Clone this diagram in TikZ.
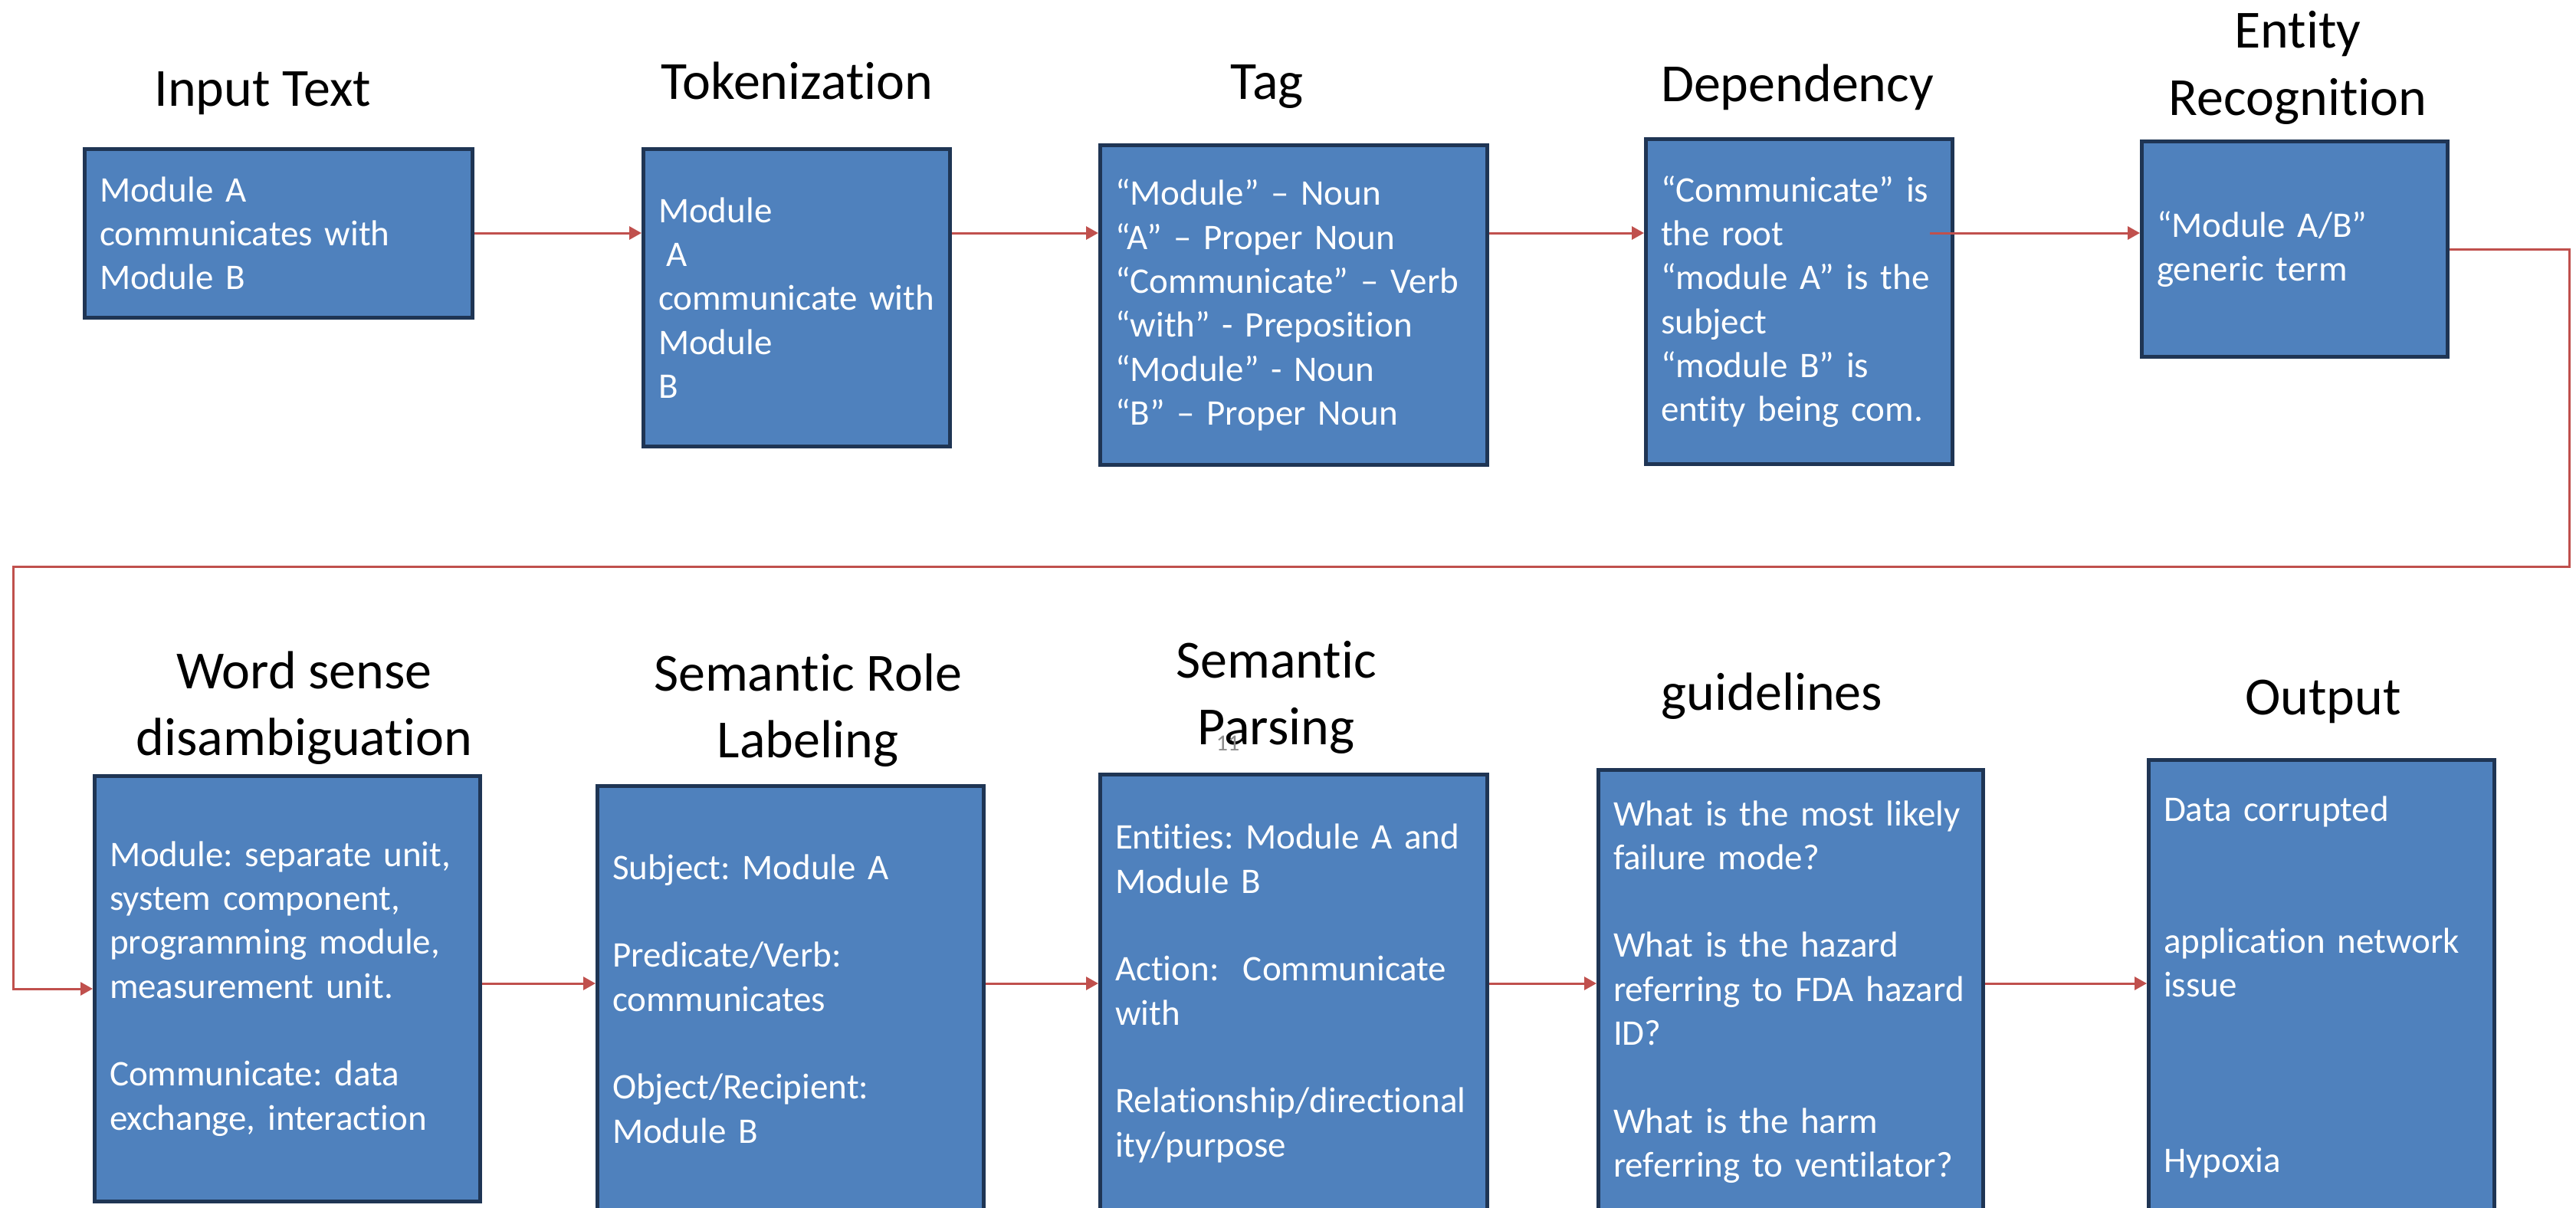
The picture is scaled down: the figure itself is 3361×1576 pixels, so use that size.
\documentclass[tikz,border=0pt]{standalone}
\usepackage{fontspec}
\setmainfont[Ligatures=NoCommon]{Carlito}
\usetikzlibrary{arrows.meta,calc}
\definecolor{boxfill}{RGB}{79,129,189}
\definecolor{boxline}{RGB}{31,53,84}
\definecolor{arrred}{RGB}{192,80,77}
\definecolor{pgnum}{RGB}{140,140,140}
\frenchspacing
\begin{document}
\begin{tikzpicture}[x=1pt,y=-1pt,
  box/.style={draw=boxline, fill=boxfill, line width=5pt, rectangle, inner xsep=19.5pt, inner ysep=0pt,
    align=left, text=white, font=\fontsize{47pt}{57.3pt}\selectfont},
  ttl/.style={anchor=base, text=black, font=\fontsize{70pt}{85pt}\selectfont, inner sep=0pt},
  arr/.style={draw=arrred, line width=3pt, -{Triangle[length=16pt,width=17pt]}}]
\useasboundingbox (0,0) rectangle (3361,1576);
\clip (0,0) rectangle (3361,1576);
\fill[white] (0,0) rectangle (3361,1576);

% titles row 1
\node[ttl] (t1) at (343,139) {Input Text};
\node[ttl] (t2) at (1040,129) {Tokenization};
\node[ttl] (t3) at (1653,129) {Tag};
\node[ttl] (t4) at (2345,132) {Dependency};
\node[ttl] (t5a) at (2998,63) {Entity};
\node[ttl] (t5b) at (2998,150) {Recognition};
% titles row 2
\node[ttl] (t6a) at (397,898) {Word sense};
\node[ttl] (t6b) at (397,985) {disambiguation};
\node[ttl] (t7a) at (1054,901) {Semantic Role};
\node[ttl] (t7b) at (1054,988) {Labeling};
\node[ttl] (t8a) at (1665,884) {Semantic};
\node[ttl] (t8b) at (1665,971) {Parsing};
\node[ttl] (t9) at (2312,926) {guidelines};
\node[ttl] (t10) at (3031,932) {Output};

% boxes row 1
\node[box, minimum width=506pt, minimum height=220pt, text width=467pt] (b1) at (363.5,304.5)
  {Module A\\communicates with\\Module B};
\node[box, minimum width=400pt, minimum height=388pt, text width=361pt] (b2) at (1039.5,388.5)
  {Module\\\hspace*{0.22em}A\\communicate with\\Module\\B};
\node[box, minimum width=505pt, minimum height=417pt, text width=466pt] (b3) at (1688,398)
  {“Module” – Noun\\“A” – Proper Noun\\“Communicate” – Verb\\“with” - Preposition\\“Module” - Noun\\“B” – Proper Noun};
\node[box, minimum width=400pt, minimum height=424pt, text width=361pt] (b4) at (2347.5,393.5)
  {“Communicate” is\\the root\\“module A” is the\\subject\\“module B” is\\entity being com.};
\node[box, minimum width=399pt, minimum height=281pt, text width=360pt] (b5) at (2994,325)
  {“Module A/B”\\generic term};

% boxes row 2
\node[box, minimum width=503pt, minimum height=555pt, text width=464pt] (b6) at (375,1290)
  {Module: separate unit,\\system component,\\programming module,\\measurement unit.\\[57.3pt]Communicate: data\\exchange, interaction};
\node[box, minimum width=504pt, minimum height=555pt, text width=465pt] (b7) at (1031.5,1303)
  {Subject: Module A\\[57.3pt]Predicate/Verb:\\communicates\\[57.3pt]Object/Recipient:\\Module B};
\node[box, minimum width=505pt, minimum height=571pt, text width=466pt] (b8) at (1688,1296)
  {Entities: Module A and\\Module B\\[57.3pt]Action:\ \ Communicate\\with\\[57.3pt]Relationship/directional\\ity/purpose};
\node[box, minimum width=502pt, minimum height=579pt, text width=463pt] (b9) at (2336.5,1294)
  {What is the most likely\\failure mode?\\[57.3pt]What is the hazard\\referring to FDA hazard\\ID?\\[57.3pt]What is the harm\\referring to ventilator?};
\node[box, minimum width=451pt, minimum height=593pt, text width=412pt] (b10) at (3029,1288)
  {Data corrupted\\[114.6pt]application network\\issue\\[171.9pt]Hypoxia};

% slide number
\node[text=pgnum, font=\fontsize{30pt}{36pt}\selectfont, inner sep=0pt] (pn) at (1602,970) {11};

% connectors row 1
\coordinate (r1) at (0,304);
\draw[arr] (r1 -| b1.east) -- (r1 -| b2.west);
\draw[arr] (r1 -| b2.east) -- (r1 -| b3.west);
\draw[arr] (r1 -| b3.east) -- (r1 -| b4.west);
\draw[arr] ($(r1 -| b4.east)+(-32,0)$) -- (r1 -| b5.west);
% loop from row 1 to row 2
\coordinate (c1) at (3352,739);
\coordinate (c2) at (17,739);
\draw[arr] (b5.east) -| (c1) -- (c2) |- (b6.west);
% connectors row 2
\coordinate (r2) at (0,1283);
\draw[arr] (r2 -| b6.east) -- (r2 -| b7.west);
\draw[arr] (r2 -| b7.east) -- (r2 -| b8.west);
\draw[arr] (r2 -| b8.east) -- (r2 -| b9.west);
\draw[arr] (r2 -| b9.east) -- (r2 -| b10.west);
\end{tikzpicture}
\end{document}
